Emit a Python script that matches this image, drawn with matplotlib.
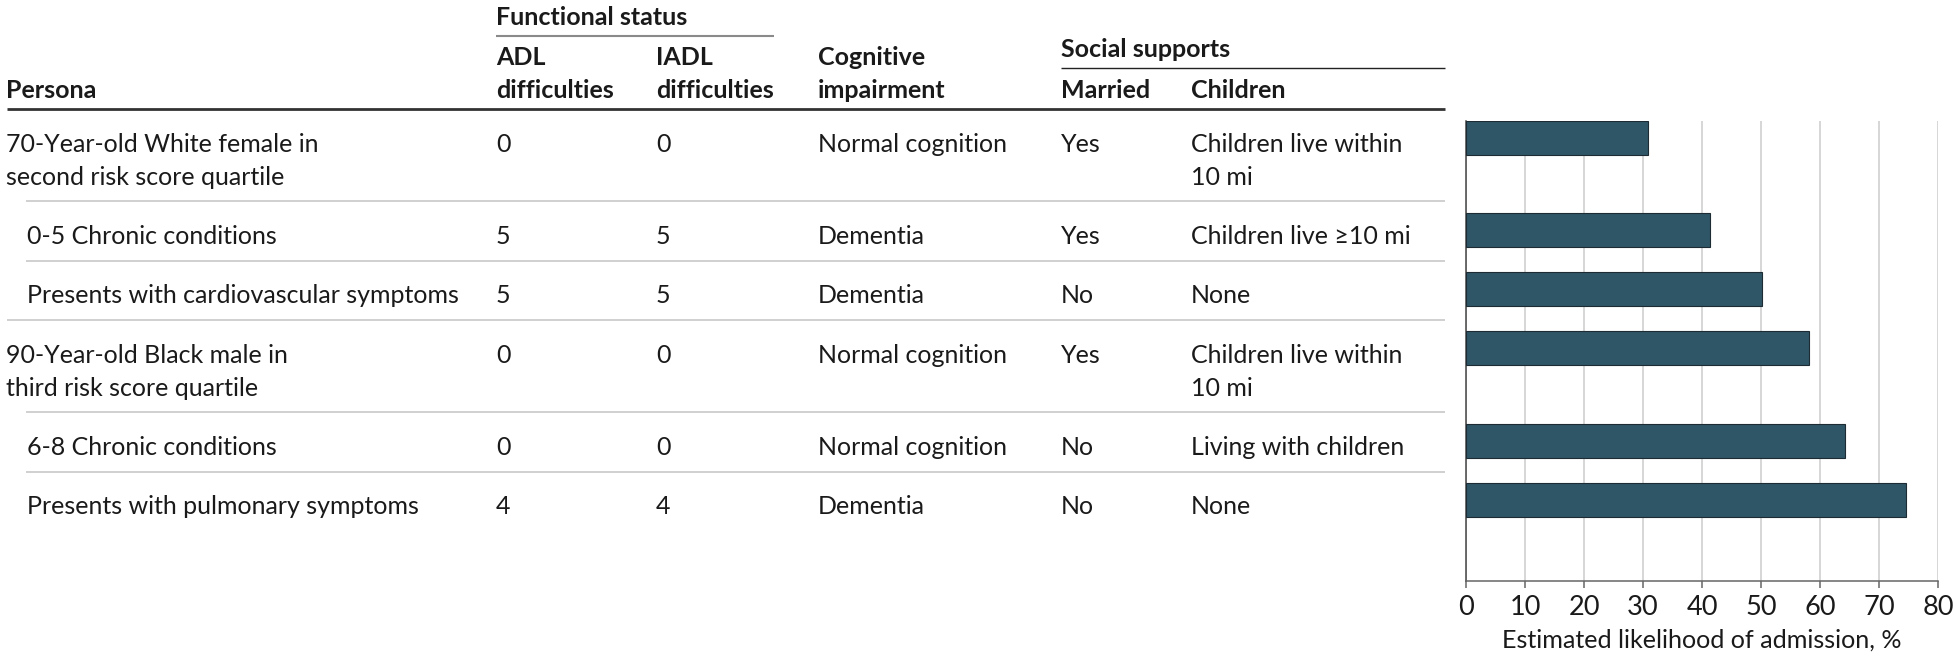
import matplotlib
matplotlib.use("Agg")
import matplotlib.pyplot as plt

# ---------------- data ----------------
personas = [
    ["70-Year-old White female in", "second risk score quartile"],
    ["0-5 Chronic conditions"],
    ["Presents with cardiovascular symptoms"],
    ["90-Year-old Black male in", "third risk score quartile"],
    ["6-8 Chronic conditions"],
    ["Presents with pulmonary symptoms"],
]
indented = [False, True, True, False, True, True]
adl = [0, 5, 5, 0, 0, 4]
iadl = [0, 5, 5, 0, 0, 4]
cognitive = ["Normal cognition", "Dementia", "Dementia",
             "Normal cognition", "Normal cognition", "Dementia"]
married = ["Yes", "Yes", "No", "Yes", "No", "No"]
children = [
    ["Children live within", "10 mi"],
    ["Children live \u226510 mi"],
    ["None"],
    ["Children live within", "10 mi"],
    ["Living with children"],
    ["None"],
]
likelihood = [30.8, 41.3, 50.1, 58.1, 64.3, 74.6]
xticks = [0, 10, 20, 30, 40, 50, 60, 70, 80]
xlabel = "Estimated likelihood of admission, %"

# ---------------- layout (pixels) ----------------
W, H, DPI = 1956, 662, 100
FONT = ["Lato", "DejaVu Sans"]
TXT = "#1a1a1a"

fig = plt.figure(figsize=(W / DPI, H / DPI), dpi=DPI)
fig.patch.set_facecolor("white")
ax = fig.add_axes([0, 0, 1, 1])
ax.set_xlim(0, W)
ax.set_ylim(H, 0)
ax.axis("off")

# fit font size to the reference width of a long row label
renderer = fig.canvas.get_renderer()
probe = ax.text(0, 0, "Presents with cardiovascular symptoms", fontsize=20, family=FONT)
w = probe.get_window_extent(renderer).width
probe.remove()
FS = 20 * 434.0 / w
probe = ax.text(0, 0, xlabel, fontsize=20, family=FONT)
w2 = probe.get_window_extent(renderer).width
probe.remove()
FS_AX = 20 * 401.0 / w2

x_persona, x_indent = 6.5, 27
x_adl, x_iadl, x_cog, x_mar, x_chi = 496, 656, 818, 1061, 1191
x_right = 1445
header_bottom = 109
line_h = 33
row_pad = 26.3
first_base = 42.6
bar_off = 28.5


def t(x, y, s, bold=False, **kw):
    ax.text(x, y, s, fontsize=FS, family=FONT, color=TXT,
            fontweight="bold" if bold else "normal", va="baseline", ha="left", **kw)


# headers
t(x_adl, 25, "Functional status", bold=True)
ax.plot([x_adl, 774], [35.7, 35.7], color="#8a8a8a", lw=1.5, solid_capstyle="butt")
t(x_adl, 65, "ADL", bold=True)
t(x_adl, 97.5, "difficulties", bold=True)
t(x_iadl, 65, "IADL", bold=True)
t(x_iadl, 97.5, "difficulties", bold=True)
t(x_cog, 65, "Cognitive", bold=True)
t(x_cog, 97.5, "impairment", bold=True)
t(x_mar, 57, "Social supports", bold=True)
ax.plot([x_mar, x_right], [68.3, 68.3], color="#222222", lw=1.0, solid_capstyle="butt")
t(x_mar, 98, "Married", bold=True)
t(x_chi, 98, "Children", bold=True)
t(x_persona, 98, "Persona", bold=True)
ax.plot([x_persona, x_right], [header_bottom, header_bottom], color="#333333", lw=2.0,
        solid_capstyle="butt")

# rows
row_tops = []
top = header_bottom
n = len(personas)
for i in range(n):
    row_tops.append(top)
    nlines = max(len(personas[i]), len(children[i]))
    base = top + first_base
    px = x_indent if indented[i] else x_persona
    for k, s in enumerate(personas[i]):
        t(px, base + k * line_h, s)
    t(x_adl, base, str(adl[i]))
    t(x_iadl, base, str(iadl[i]))
    t(x_cog, base, cognitive[i])
    t(x_mar, base, married[i])
    for k, s in enumerate(children[i]):
        t(x_chi, base + k * line_h, s)
    top = top + row_pad + line_h * nlines
    if i < n - 1:
        x0 = x_indent - 1 if indented[i + 1] else x_persona
        ax.plot([x0, x_right], [top, top], color="#c8c8c8", lw=1.2, solid_capstyle="butt")

# ---------------- bar chart ----------------
ax_left, ax_right_px, ax_top, ax_bottom = 1466, 1938, 121, 581
ax2 = fig.add_axes([ax_left / W, (H - ax_bottom) / H,
                    (ax_right_px - ax_left) / W, (ax_bottom - ax_top) / H])
ycent = [rt + bar_off for rt in row_tops]
ax2.barh(ycent, likelihood, height=34, color="#2f5666", edgecolor="#1d2c34",
         linewidth=0.8, zorder=3)
ax2.set_xlim(0, 80)
ax2.set_ylim(ax_bottom, ax_top)
ax2.set_xticks(xticks)
ax2.set_xticklabels([str(v) for v in xticks], family=FONT, fontsize=FS_AX * 1.08, color=TXT)
ax2.set_yticks([])
ax2.grid(axis="x", color="#d0d0d0", lw=1.2, zorder=0)
ax2.set_axisbelow(True)
for s in ["top", "right"]:
    ax2.spines[s].set_visible(False)
ax2.spines["left"].set_color("#444444")
ax2.spines["left"].set_linewidth(1.1)
ax2.spines["bottom"].set_color("#666666")
ax2.spines["bottom"].set_linewidth(1.1)
ax2.tick_params(axis="x", length=5, width=1.1, color="#666666", pad=5)
ax2.set_xlabel(xlabel, family=FONT, fontsize=FS_AX, color=TXT, labelpad=6)
ax2.set_facecolor("none")

fig.savefig("out.png", dpi=DPI, facecolor="white")
